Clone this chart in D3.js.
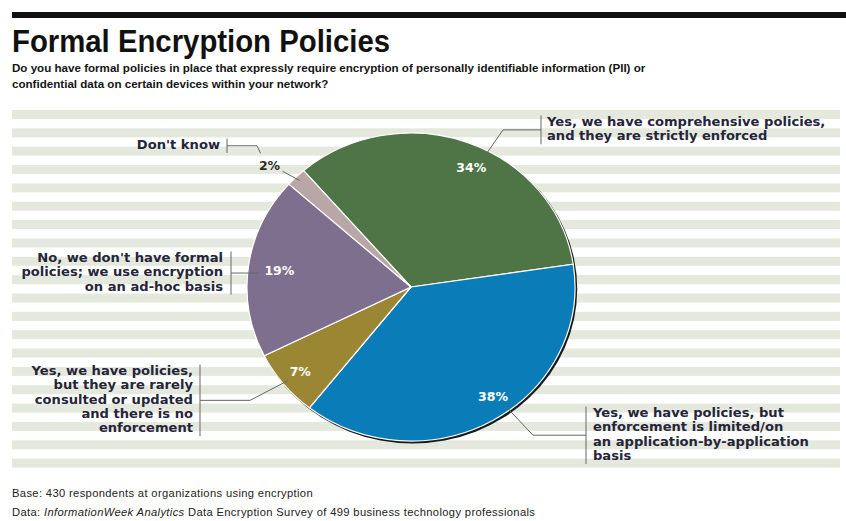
<!DOCTYPE html>
<html>
<head>
<meta charset="utf-8">
<script src="https://cdn.jsdelivr.net/npm/d3@7"></script>
<style>
  html, body { margin: 0; padding: 0; background: #fff; }
  svg { display: block; }
</style>
</head>
<body>
<svg id="chart" width="846" height="521"></svg>
<script>
// ---- data ----
const categories = [
  "Yes, we have comprehensive policies, and they are strictly enforced",
  "Yes, we have policies, but enforcement is limited/on an application-by-application basis",
  "Yes, we have policies, but they are rarely consulted or updated and there is no enforcement",
  "No, we don't have formal policies; we use encryption on an ad-hoc basis",
  "Don't know"
];
const shares = [34, 38, 7, 19, 2];
const labelLines = [
  ["Yes, we have comprehensive policies,", "and they are strictly enforced"],
  ["Yes, we have policies, but", "enforcement is limited/on", "an application-by-application", "basis"],
  ["Yes, we have policies,", "but they are rarely", "consulted or updated", "and there is no", "enforcement"],
  ["No, we don't have formal", "policies; we use encryption", "on an ad-hoc basis"],
  ["Don't know"]
];
const titleText = "Formal Encryption Policies";
const questionLines = [
  "Do you have formal policies in place that expressly require encryption of personally identifiable information (PII) or",
  "confidential data on certain devices within your network?"
];
const baseNote = "Base: 430 respondents at organizations using encryption";
const sourceNote = ["Data: ", "InformationWeek Analytics", " Data Encryption Survey of 499 business technology professionals"];

// ---- styling / layout ----
const W = 846, H = 521;
const sliceColors = ["#4f7446", "#0a7cb8", "#9b8634", "#7f6f8f", "#b9a7a8"];
const pctColors = ["#fff", "#fff", "#fff", "#fff", "#2a2a2a"];
const cx = 411, cy = 287, rx = 164, ry = 154;
const startDeg = -40.9;
const labelFont = "'DejaVu Sans', Verdana, sans-serif";
const headFont = "'Liberation Sans', Arial, sans-serif";
const lineGap = 14.3;

// label blocks: anchor side, text x, first baseline, bracket x, leader elbow, percent label placement
const labelLayout = [
  { anchor: "start", x: 547, y: 126, bx: 541, elbowX: 503, pctR: 0.86, pctShift: 5 },
  { anchor: "start", x: 593, y: 417, bx: 586, elbowX: 533, pctR: 0.87, pctShift: -5 },
  { anchor: "end",   x: 193, y: 375, bx: 200, elbowX: 250, pctR: 0.87, pctShift: 0 },
  { anchor: "end",   x: 223, y: 262, bx: 231, elbowX: 259, pctR: 0.81, pctShift: 0 },
  { anchor: "end",   x: 220, y: 149, bx: 227, elbowX: 257, pctR: 1.17, pctShift: -3 }
];

const svg = d3.select("#chart");

// background stripes
const stripeRows = d3.range(20);
const stripeY = d3.scaleLinear().domain([0, 1]).range([110, 128.35]);
svg.append("g").selectAll("rect").data(stripeRows).join("rect")
  .attr("x", 12).attr("width", 828)
  .attr("y", d => stripeY(d)).attr("height", 9)
  .attr("fill", "#e5e8dc");

// top rule
svg.append("rect").attr("x", 12).attr("y", 12).attr("width", W - 12).attr("height", 6).attr("fill", "#111");

// title + question
svg.append("text").attr("x", 12).attr("y", 52)
  .attr("font-family", "'Liberation Sans Narrow', 'Liberation Sans', sans-serif")
  .attr("font-weight", "bold").attr("font-size", 31).attr("fill", "#111")
  .attr("textLength", 378).attr("lengthAdjust", "spacingAndGlyphs")
  .text(titleText);

svg.append("g").selectAll("text").data(questionLines).join("text")
  .attr("x", 12).attr("y", (d, i) => 72 + i * 16)
  .attr("font-family", headFont).attr("font-weight", "bold").attr("font-size", 11.6)
  .attr("fill", "#151515")
  .text(d => d);

// pie
const pie = d3.pie().sort(null).value(d => d)
  .startAngle(startDeg * Math.PI / 180)
  .endAngle(startDeg * Math.PI / 180 + 2 * Math.PI);
const arcs = pie(shares);
const arc = d3.arc().innerRadius(0).outerRadius(ry);
const sx = rx / ry;

const pieG = svg.append("g").attr("transform", `translate(${cx},${cy}) scale(${sx},1)`);
// rim shadow on the lower right
pieG.append("ellipse").attr("cx", 1.6 / sx).attr("cy", 1.8).attr("rx", ry + 0.6).attr("ry", ry + 0.6)
  .attr("fill", "#1a1a1a");
pieG.selectAll("path").data(arcs).join("path")
  .attr("d", arc)
  .attr("fill", (d, i) => sliceColors[i])
  .attr("stroke", "#fff").attr("stroke-width", 1.2)
  .attr("vector-effect", "non-scaling-stroke");

// point on the ellipse for an angle (clockwise from 12 o'clock) and radius fraction
function polar(a, f) {
  return [cx + Math.sin(a) * rx * f, cy - Math.cos(a) * ry * f];
}

// percentage labels
const pctPos = arcs.map((d, i) => {
  const L = labelLayout[i];
  const mid = (d.startAngle + d.endAngle) / 2 + L.pctShift * Math.PI / 180;
  return polar(mid, L.pctR);
});
svg.append("g").selectAll("text").data(arcs).join("text")
  .attr("x", (d, i) => pctPos[i][0]).attr("y", (d, i) => pctPos[i][1])
  .attr("text-anchor", "middle").attr("dominant-baseline", "central")
  .attr("font-family", labelFont).attr("font-weight", "bold").attr("font-size", 12.5)
  .attr("fill", (d, i) => pctColors[i])
  .text(d => d.data + "%");

// category labels with bracket and leader
const lab = svg.append("g");
labelLines.forEach((lines, i) => {
  const L = labelLayout[i];
  const top = L.y - 10.5, bottom = L.y + (lines.length - 1) * lineGap + 4;
  const midY = (top + bottom) / 2;
  lab.append("g").selectAll("text").data(lines).join("text")
    .attr("x", L.x).attr("y", (d, j) => L.y + j * lineGap)
    .attr("text-anchor", L.anchor)
    .attr("font-family", labelFont).attr("font-weight", "bold").attr("font-size", 13.1)
    .attr("fill", "#25253a")
    .text(d => d);
  lab.append("line").attr("x1", L.bx).attr("x2", L.bx).attr("y1", top).attr("y2", bottom)
    .attr("stroke", "#666").attr("stroke-width", 1);

  // leader towards the slice's percentage label
  const [px, py] = pctPos[i];
  const dir = L.anchor === "start" ? 1 : -1;
  const pts = [[L.bx, midY], [L.elbowX, midY]];
  if (i === 3) {
    // straight into the label
  } else if (i === 4) {
    pts.push([px - 9, py - 12]);
  } else {
    const tx = px + dir * 12;
    const ty = py + (py < midY ? 9 : -9);
    pts.push([tx, ty]);
  }
  lab.append("path").attr("d", d3.line()(pts))
    .attr("fill", "none").attr("stroke", "#666").attr("stroke-width", 1);
});
// second segment of the small slice's leader, from its percent label to the rim
{
  const d = arcs[4];
  const mid = (d.startAngle + d.endAngle) / 2;
  const [px, py] = pctPos[4];
  const rim = polar(mid, 0.97);
  lab.append("path").attr("d", d3.line()([[px + 13, py + 6], rim]))
    .attr("fill", "none").attr("stroke", "#666").attr("stroke-width", 1);
}

// footnotes
svg.append("text").attr("x", 12).attr("y", 497)
  .attr("font-family", headFont).attr("font-size", 11.2).attr("letter-spacing", 0.35).attr("fill", "#222")
  .text(baseNote);
const src = svg.append("text").attr("x", 12).attr("y", 516)
  .attr("font-family", headFont).attr("font-size", 11.2).attr("letter-spacing", 0.35).attr("fill", "#222");
src.selectAll("tspan").data(sourceNote).join("tspan")
  .attr("font-style", (d, i) => i === 1 ? "italic" : "normal")
  .text(d => d);
</script>
</body>
</html>
